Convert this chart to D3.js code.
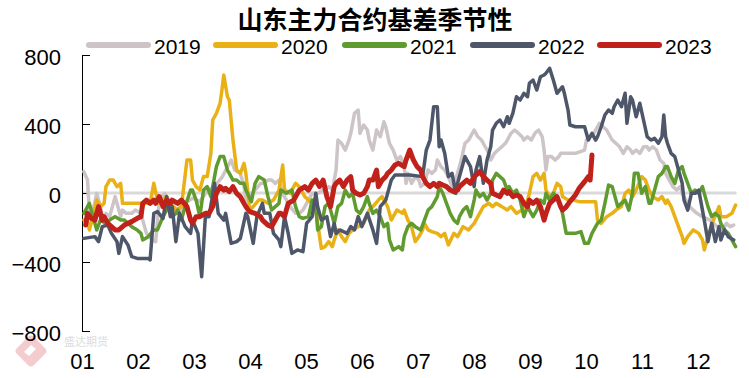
<!DOCTYPE html>
<html><head><meta charset="utf-8">
<script src="https://cdn.jsdelivr.net/npm/d3@7"></script>
<style>body{margin:0;background:#fff}</style>
</head><body>
<svg id="c" width="749" height="378"></svg>
<script>
const title = "山东主力合约基差季节性";
const years = ["2019","2020","2021","2022","2023"];
const seriesColors = ["#cdc4c7","#e9b116","#609b30","#4e566a","#c0211a"];
const monthLabels = ["01","02","03","04","05","06","07","08","09","10","11","12"];
const yTicks = [-800,-400,0,400,800];

// [day of year, basis value]
const s2019 = [[1,124],[3,75],[4,-118],[6,-99],[8,-2],[10,-79],[12,-176],[13,-118],[15,-137],[18,-21],[21,-137],[22,-99],[24,-118],[27,-118],[29,-99],[32,-118],[35,-234],[38,-272],[40,-282],[42,-40],[45,-2],[47,-41],[50,-80],[53,-110],[56,-60],[60,-30],[64,-50],[68,10],[72,40],[76,90],[79,150],[81,191],[83,133],[86,114],[88,37],[89,-41],[92,-2],[94,17],[97,56],[99,56],[101,75],[103,75],[105,56],[107,75],[109,-2],[113,-79],[116,-118],[118,-118],[120,-99],[122,-60],[125,-2],[128,-2],[131,17],[134,37],[136,17],[138,133],[139,307],[141,288],[143,249],[145,307],[146,346],[148,462],[150,481],[151,346],[153,394],[155,365],[156,307],[158,249],[160,365],[162,326],[164,413],[165,384],[167,288],[169,249],[171,191],[173,211],[175,153],[176,56],[177,114],[179,56],[181,95],[183,75],[184,37],[186,56],[188,133],[190,114],[192,133],[193,191],[195,153],[197,133],[199,95],[201,37],[202,56],[204,114],[206,191],[208,288],[210,307],[212,346],[213,365],[215,326],[217,307],[219,268],[221,230],[222,191],[224,230],[226,249],[228,268],[230,288],[231,307],[233,346],[235,365],[237,346],[239,326],[240,307],[242,326],[244,307],[246,346],[248,365],[250,326],[251,249],[252,133],[253,211],[255,211],[257,191],[259,211],[260,230],[264,230],[268,230],[273,249],[274,307],[276,326],[278,346],[279,365],[281,404],[283,384],[285,365],[287,326],[288,307],[290,288],[292,268],[294,230],[296,268],[298,249],[299,230],[301,249],[303,230],[305,268],[307,268],[308,249],[310,268],[312,249],[314,191],[316,172],[317,114],[319,75],[321,37],[323,17],[325,37],[326,-2],[328,-41],[330,-79],[332,-99],[334,-118],[337,-137],[341,-157],[345,-195],[348,-214],[350,-176],[352,-195],[354,-186]];
const s2020 = [[1,-157],[3,-157],[4,-214],[6,-137],[8,-41],[10,-79],[12,-60],[13,37],[15,75],[17,75],[19,37],[21,56],[22,-60],[37,-60],[39,56],[41,-41],[42,-60],[46,-21],[48,-60],[51,-99],[54,-79],[57,191],[59,191],[60,75],[62,37],[64,17],[66,95],[68,95],[70,230],[71,423],[73,462],[75,520],[76,597],[77,684],[79,558],[80,539],[82,307],[84,133],[86,114],[88,172],[89,114],[90,17],[91,-99],[93,-79],[96,-41],[98,-41],[101,-60],[104,-41],[107,17],[109,162],[110,17],[113,-2],[116,56],[118,37],[121,-21],[123,-41],[125,-60],[127,-99],[128,-176],[130,-321],[132,-311],[134,-282],[136,-311],[137,-272],[139,-214],[141,-253],[143,-282],[145,-234],[147,-214],[150,-195],[153,-176],[156,-99],[158,-79],[161,-41],[163,-21],[165,-60],[166,-79],[168,-157],[171,-99],[174,-118],[175,-99],[177,-157],[179,-195],[181,-282],[183,-253],[185,-214],[186,-176],[188,-214],[190,-224],[193,-234],[195,-253],[197,-234],[199,-301],[202,-234],[204,-253],[207,-195],[210,-214],[213,-176],[215,-137],[218,-79],[221,-60],[223,-79],[225,-60],[228,-79],[231,-99],[233,-79],[236,-118],[239,-99],[242,-41],[243,-2],[245,95],[247,114],[249,75],[251,114],[252,17],[254,-21],[256,-2],[258,56],[260,37],[261,-21],[264,-41],[267,-41],[270,-50],[276,-50],[279,-50],[280,-157],[282,-176],[285,-137],[288,-118],[290,-99],[293,-79],[295,-2],[297,17],[299,-21],[301,17],[304,95],[306,75],[308,17],[310,-21],[313,-41],[315,-21],[317,-60],[318,-41],[320,-79],[322,-137],[324,-195],[326,-253],[327,-292],[329,-253],[332,-214],[335,-234],[337,-272],[338,-330],[340,-253],[343,-157],[346,-79],[347,-137],[350,-137],[353,-118],[355,-70]];
const s2021 = [[1,-118],[3,-79],[4,-60],[6,-137],[8,-214],[10,-157],[13,-176],[15,-157],[18,-137],[21,-157],[23,-157],[25,-176],[27,-195],[30,-214],[32,-234],[33,-272],[36,-253],[39,-214],[41,-214],[44,-137],[47,-79],[49,-137],[51,-118],[52,-99],[54,-157],[56,-79],[59,17],[60,17],[62,-41],[64,-137],[66,17],[68,37],[70,-21],[71,37],[73,153],[75,211],[77,211],[79,133],[80,114],[82,75],[84,75],[86,56],[88,56],[89,17],[92,-50],[94,56],[96,95],[99,75],[101,-21],[103,-99],[105,-79],[107,-60],[108,17],[111,-2],[114,17],[116,-79],[118,-137],[120,-147],[123,-137],[125,-41],[127,-79],[128,-214],[130,-195],[132,-79],[134,-60],[136,-137],[137,-176],[139,-79],[141,-60],[143,17],[145,-21],[147,-2],[149,-99],[151,-118],[153,-79],[155,-21],[156,-60],[158,-118],[160,-99],[162,-137],[164,-195],[166,-176],[167,-272],[169,-330],[172,-311],[174,-330],[175,-253],[177,-195],[179,-176],[181,-195],[184,-214],[186,-157],[188,-99],[190,-79],[193,-21],[194,37],[196,-2],[198,-60],[200,-118],[202,-157],[204,-176],[205,-137],[207,-99],[209,-79],[211,-137],[213,-41],[214,17],[216,-21],[218,-2],[220,-41],[222,-2],[223,75],[225,114],[227,95],[229,75],[231,17],[232,37],[234,-2],[236,17],[238,-41],[240,-137],[242,-79],[243,-99],[245,-137],[247,-99],[249,-41],[251,-60],[252,-2],[254,-41],[256,-2],[258,-21],[260,-79],[261,-118],[263,-234],[268,-234],[271,-224],[273,-292],[275,-292],[277,-234],[279,-195],[280,-176],[282,-157],[284,-60],[286,46],[288,37],[289,-2],[291,-79],[293,-60],[295,-41],[297,-99],[299,-2],[300,114],[302,114],[304,-2],[306,37],[308,-60],[309,-60],[311,17],[313,95],[315,114],[317,153],[318,153],[320,95],[322,56],[324,133],[326,153],[327,114],[329,56],[331,-2],[333,17],[335,-2],[337,37],[338,-2],[340,-79],[342,-137],[344,-118],[346,-137],[347,-176],[349,-214],[351,-234],[353,-272],[355,-311]];
const s2022 = [[1,-263],[7,-253],[9,-282],[11,-195],[14,-186],[16,-234],[19,-282],[20,-350],[22,-253],[25,-302],[27,-369],[30,-379],[36,-379],[37,-388],[39,-118],[41,-108],[44,-147],[46,-21],[48,-137],[49,-79],[51,-282],[53,-118],[56,-195],[59,-234],[60,-157],[63,-234],[65,-485],[67,-137],[69,-137],[72,56],[74,-118],[77,-157],[78,-118],[81,-292],[84,-282],[86,-263],[89,-118],[90,-137],[93,-292],[95,-137],[98,-60],[99,-118],[102,-118],[104,-234],[107,-272],[108,-311],[110,-137],[112,-234],[114,-350],[117,-330],[120,-340],[122,-176],[125,-137],[127,-2],[128,-79],[130,-157],[133,-137],[135,-253],[137,-176],[138,-234],[140,-214],[144,-234],[146,-195],[148,-214],[150,-137],[152,-195],[155,-118],[158,-214],[160,-292],[162,-79],[165,-41],[166,-2],[168,75],[170,104],[178,104],[185,95],[187,249],[189,307],[191,500],[193,500],[194,268],[195,307],[197,230],[199,95],[201,114],[203,-2],[204,56],[206,133],[208,211],[211,153],[213,37],[214,133],[216,211],[218,56],[220,191],[222,268],[223,365],[225,404],[227,423],[229,384],[231,442],[232,404],[234,462],[236,558],[238,539],[240,578],[242,558],[243,636],[245,655],[247,597],[249,674],[251,684],[252,694],[254,723],[256,655],[258,578],[261,616],[262,578],[264,481],[265,394],[268,384],[273,384],[275,307],[277,346],[279,307],[280,326],[282,384],[284,452],[286,481],[288,462],[289,500],[291,539],[293,500],[295,578],[296,404],[298,558],[299,539],[301,442],[303,520],[305,423],[307,326],[309,307],[311,317],[313,288],[315,326],[316,452],[317,326],[318,288],[320,230],[322,211],[324,133],[326,56],[327,-41],[329,-99],[331,-2],[333,-2],[335,17],[337,-99],[338,-157],[340,-282],[342,-176],[344,-282],[346,-195],[347,-272],[349,-214],[351,-253],[354,-272]];
const s2023 = [[2,-186],[3,-118],[5,-147],[7,-157],[9,-79],[11,-157],[12,-137],[14,-176],[16,-195],[18,-214],[20,-214],[23,-186],[27,-166],[30,-147],[32,-137],[33,-60],[35,-41],[37,-60],[39,-41],[40,-60],[42,-21],[44,-79],[46,-41],[48,-60],[49,-41],[52,-60],[54,-41],[57,-79],[59,-157],[60,-176],[62,-137],[64,-137],[67,-118],[69,-118],[71,-79],[73,-2],[75,37],[77,17],[78,27],[80,8],[82,37],[84,-2],[86,-21],[87,-41],[89,-79],[91,-108],[94,-118],[97,-137],[98,-157],[101,-186],[103,-195],[105,-157],[107,-118],[108,-118],[110,-137],[112,-60],[115,-41],[117,-2],[118,17],[121,37],[123,17],[125,56],[127,75],[129,37],[131,75],[133,-21],[135,-79],[137,37],[138,56],[140,75],[142,37],[144,75],[146,95],[147,17],[149,-2],[151,-12],[153,-2],[155,37],[156,75],[158,75],[160,133],[161,37],[163,75],[165,95],[166,114],[168,133],[170,162],[172,172],[175,153],[176,191],[178,249],[180,191],[182,153],[184,133],[185,95],[187,56],[189,37],[191,56],[193,37],[194,56],[196,46],[198,37],[200,17],[202,8],[204,17],[205,37],[207,56],[209,75],[211,56],[213,95],[214,104],[216,124],[218,95],[220,75],[222,56],[223,-2],[225,-12],[227,-21],[229,17],[231,-2],[232,8],[234,-21],[236,-12],[238,-21],[240,-60],[242,-79],[243,-41],[245,-60],[247,-41],[249,-79],[251,-157],[252,-118],[254,-60],[256,-41],[258,-21],[260,-79],[261,-99],[263,-80],[265,-50],[268,-12],[270,27],[273,66],[275,95],[276,75],[277,220]];
const seriesData = [s2019, s2020, s2021, s2022, s2023];

const svg = d3.select("#c");
const x = d3.scaleLinear().domain([0, 365]).range([82, 754]);
const y = d3.scaleLinear().domain([-800, 800]).range([331, 55]);
const FONT = "'Liberation Sans', Arial, sans-serif";

// watermark
const wm = svg.append("g").attr("opacity", 0.35);
wm.append("rect").attr("x", 19).attr("y", 339).attr("width", 24).attr("height", 24)
  .attr("rx", 4).attr("fill", "#e0707a").attr("transform", "rotate(45 31 351)");
wm.append("path").attr("d", "M24 352 L31 345 L36 349 L29 356 Z").attr("fill", "#fff");
wm.append("text").attr("x", 64).attr("y", 346).attr("font-family", "'Noto Sans CJK SC'")
  .attr("font-size", 11).attr("fill", "#999").text("盛达期货");

// zero line
svg.append("line").attr("x1", x(0)).attr("x2", x(355.5)).attr("y1", y(0)).attr("y2", y(0))
  .attr("stroke", "#d9d9d9").attr("stroke-width", 3);

// y axis
const yAxis = svg.append("g").attr("transform", "translate(82,0)")
  .call(d3.axisLeft(y).tickValues(yTicks).tickSizeInner(-8).tickSizeOuter(0).tickPadding(21)
    .tickFormat(d => d < 0 ? "\u2212" + Math.abs(d) : d));
yAxis.select(".domain").attr("stroke", "#000");
yAxis.selectAll(".tick line").attr("stroke", "#000");
yAxis.selectAll("text").attr("font-family", FONT).attr("font-size", 22).attr("fill", "#000").attr("dy", "0.43em");

// x axis (month labels)
const monthTicks = monthLabels.map((m, i) => i * 365 / 12);
const xAxis = svg.append("g").attr("transform", "translate(0,353)")
  .call(d3.axisBottom(x).tickValues(monthTicks).tickSize(0).tickPadding(0)
    .tickFormat((d, i) => monthLabels[i]));
xAxis.select(".domain").remove();
xAxis.selectAll("text").attr("font-family", FONT).attr("font-size", 22).attr("fill", "#000");

// lines
const line = d3.line().x(d => x(d[0])).y(d => y(d[1]));
seriesData.forEach((s, i) => {
  svg.append("path").datum(s).attr("d", line).attr("fill", "none")
    .attr("stroke", seriesColors[i]).attr("stroke-width", i === 4 ? 5 : 3.5)
    .attr("stroke-linejoin", "round").attr("stroke-linecap", "round");
});

// title
svg.append("text").attr("x", 375).attr("y", 29).attr("text-anchor", "middle")
  .attr("font-family", "'Noto Sans CJK SC'").attr("font-weight", "bold").attr("font-size", 25)
  .attr("fill", "#000").text(title);

// legend
const legendLineX = [89, 216, 345, 473, 600];
years.forEach((yr, i) => {
  const g = svg.append("g");
  g.append("line").attr("x1", legendLineX[i]).attr("x2", legendLineX[i] + 59).attr("y1", 45).attr("y2", 45)
    .attr("stroke", seriesColors[i]).attr("stroke-width", 6).attr("stroke-linecap", "round");
  g.append("text").attr("x", legendLineX[i] + 65).attr("y", 54).attr("font-family", FONT)
    .attr("font-size", 21).attr("fill", "#000").text(yr);
});
</script>
</body></html>
